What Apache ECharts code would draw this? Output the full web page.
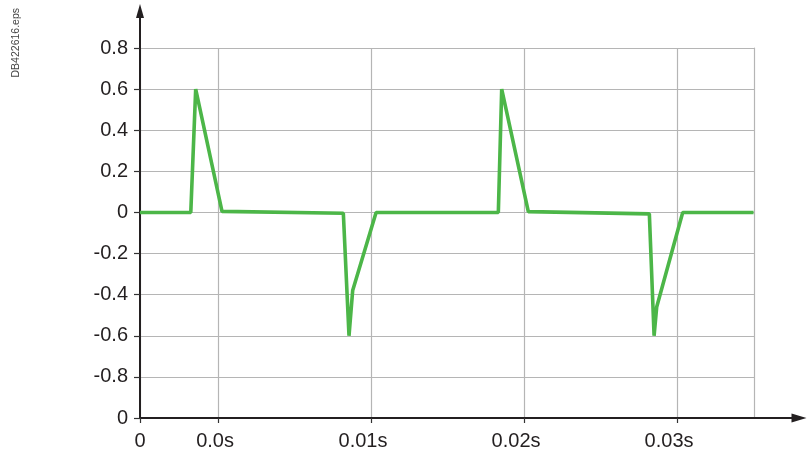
<!DOCTYPE html>
<html>
<head>
<meta charset="utf-8">
<script src="https://cdn.jsdelivr.net/npm/echarts@6/dist/echarts.min.js"></script>
<style>html,body{margin:0;padding:0;background:#fff}#c{width:809px;height:452px}</style>
</head>
<body>
<div id="c"></div>
<script>
// time in ms, signal value
const times  = [-5.1, -1.78, -1.46, 0.26, 8.19, 8.56, 8.80, 10.33, 18.32, 18.54, 20.28, 28.19, 28.50, 28.67, 30.37, 35.0];
const values = [0, 0, 0.6, 0.005, -0.004, -0.6, -0.38, 0, 0, 0.6, 0.004, -0.007, -0.6, -0.46, 0, 0];
const xTicks = [-5.1, 0, 10, 20, 30];
const yMin = -1, yMax = 0.8, yStep = 0.2;
const fileTag = 'DB422616.eps';

const font = '"Liberation Sans", Arial, sans-serif';
const txt = '#231f20';
const chart = echarts.init(document.getElementById('c'), null, {renderer: 'canvas'});
const data = times.map((t, i) => [t, values[i]]);
const richBase = {fontSize: 20, fontFamily: font, color: txt};

chart.setOption({
  animation: false,
  graphic: [{
    type: 'text', left: 11, top: 8, rotation: Math.PI / 2,
    style: {text: fileTag, fontSize: 10.5, fontFamily: font, fill: '#444'}
  }],
  grid: [
    {left: 140, right: 55, top: 48, bottom: 34},
    {left: 140, right: 10, top: 11, bottom: 34}
  ],
  xAxis: [
    {
      type: 'value', gridIndex: 0, min: -5.1, max: 35.03,
      axisLine: {show: false, onZero: false},
      axisTick: {show: true, customValues: xTicks, length: 5, lineStyle: {color: '#333', width: 1.2}},
      axisLabel: {
        customValues: xTicks, margin: 13, fontSize: 20, fontFamily: font, color: txt,
        formatter: v => {
          if (v < -1) return '0';
          if (v === 0) return '{a|0.0s}';
          return '{b|' + (v / 1000).toFixed(2) + 's}';
        },
        rich: {
          a: Object.assign({padding: [0, 6, 0, 0]}, richBase),
          b: Object.assign({padding: [0, 16, 0, 0]}, richBase)
        }
      },
      splitLine: {show: true, lineStyle: {color: '#b5b5b5', width: 1.2}}
    },
    {
      type: 'value', gridIndex: 1, min: 0, max: 1,
      axisLine: {show: true, onZero: false, symbol: ['none', 'triangle'], symbolSize: [9, 15],
        lineStyle: {color: '#231f20', width: 2}},
      axisTick: {show: false}, axisLabel: {show: false}, splitLine: {show: false}
    }
  ],
  yAxis: [
    {
      type: 'value', gridIndex: 0, min: yMin, max: yMax, interval: yStep,
      axisLine: {show: false, onZero: false},
      axisTick: {show: true, length: 6, lineStyle: {color: '#333', width: 1.2}},
      axisLabel: {
        margin: 12, fontSize: 20, fontFamily: font, color: txt,
        formatter: v => {
          if (Math.abs(v - yMin) < 1e-9) return '0';
          const r = Math.round(v * 10) / 10;
          return r === 0 ? '0' : String(r);
        }
      },
      splitLine: {show: true, lineStyle: {color: '#b5b5b5', width: 1.2}}
    },
    {
      type: 'value', gridIndex: 0, min: yMin, max: yMax, position: 'right',
      axisLine: {show: true, onZero: false, lineStyle: {color: '#b5b5b5', width: 1.2}},
      axisTick: {show: false}, axisLabel: {show: false}, splitLine: {show: false}
    },
    {
      type: 'value', gridIndex: 1, min: 0, max: 1,
      axisLine: {show: true, onZero: false, symbol: ['none', 'triangle'], symbolSize: [8, 14],
        lineStyle: {color: '#231f20', width: 2}},
      axisTick: {show: false}, axisLabel: {show: false}, splitLine: {show: false}
    }
  ],
  series: [{
    type: 'line', xAxisIndex: 0, yAxisIndex: 0, data: data,
    symbol: 'none', clip: false,
    lineStyle: {color: '#4cb648', width: 3.6, join: 'bevel'},
    z: 5
  }]
});
</script>
</body>
</html>
